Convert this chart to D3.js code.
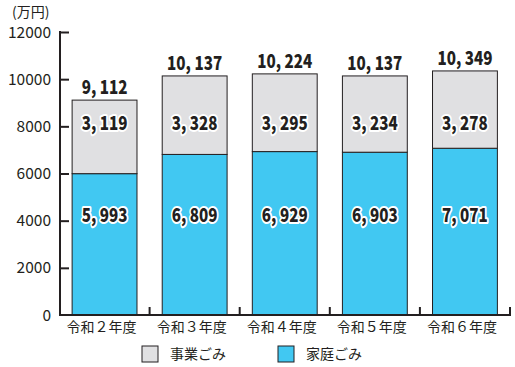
<!DOCTYPE html>
<html><head><meta charset="utf-8">
<script src="https://cdn.jsdelivr.net/npm/d3@7"></script>
<style>
body{margin:0;background:#fff;}
svg{display:block;}
</style></head>
<body>
<svg id="chart" width="515" height="367"></svg>
<script>
const categories = ["令和２年度","令和３年度","令和４年度","令和５年度","令和６年度"];
const household = [5993, 6809, 6929, 6903, 7071];
const business  = [3119, 3328, 3295, 3234, 3278];
const totals    = [9112, 10137, 10224, 10137, 10349];
const yTicks = [0, 2000, 4000, 6000, 8000, 10000, 12000];
const seriesNames = ["事業ごみ", "家庭ごみ"];
const unitLabel = "(万円)";

const colors = {biz: "#e0e0e2", home: "#41c8f2", ink: "#231f20"};
const fmt = v => d3.format(",")(v).replace(",", ", ");

const svg = d3.select("#chart");
const x = d3.scaleBand().domain(categories).range([59.5, 510]).paddingInner(0.28).paddingOuter(0.14);
const y = d3.scaleLinear().domain([0, 12000]).range([315, 32]);
const font = "'Noto Sans CJK JP', 'Noto Sans', sans-serif";

const data = categories.map((c, i) => ({c, home: household[i], biz: business[i], total: totals[i]}));

// bars
const g = svg.append("g");
g.selectAll("rect.home").data(data).join("rect")
  .attr("x", d => x(d.c)).attr("width", x.bandwidth())
  .attr("y", d => y(d.home)).attr("height", d => y(0) - y(d.home))
  .attr("fill", colors.home).attr("stroke", colors.ink).attr("stroke-width", 1);
g.selectAll("rect.biz").data(data).join("rect")
  .attr("x", d => x(d.c)).attr("width", x.bandwidth())
  .attr("y", d => y(d.home + d.biz)).attr("height", d => y(d.home) - y(d.home + d.biz))
  .attr("fill", colors.biz).attr("stroke", colors.ink).attr("stroke-width", 1);

// y axis
const yAxis = d3.axisRight(y).tickValues(yTicks).tickSize(9).tickFormat("");
const ya = svg.append("g").attr("transform", "translate(60,0)").call(yAxis);
ya.select(".domain").attr("stroke", colors.ink).attr("stroke-width", 2).attr("d", `M0,${y(12000)-1}V${y(0)}`);
ya.selectAll(".tick line").attr("stroke", colors.ink).attr("stroke-width", 2);
ya.selectAll(".tick").filter(d => d === 0).select("line").remove();
svg.append("g").selectAll("text").data(yTicks).join("text")
  .attr("x", 51).attr("y", d => y(d)).attr("dy", "0.36em")
  .attr("text-anchor", "end").attr("font-family", font).attr("font-size", 15.5)
  .attr("fill", colors.ink).text(d => d);

// x axis baseline with separator ticks
const start = x(categories[0]) - x.step() * x.paddingOuter();
const boundaries = categories.map((c, i) => start + x.step() * (i + 1));
svg.append("line").attr("x1", 59).attr("x2", boundaries[boundaries.length-1] + 1)
  .attr("y1", y(0)).attr("y2", y(0)).attr("stroke", colors.ink).attr("stroke-width", 2);
svg.append("g").selectAll("line").data(boundaries).join("line")
  .attr("x1", d => d).attr("x2", d => d).attr("y1", y(0)).attr("y2", y(0) - 8)
  .attr("stroke", colors.ink).attr("stroke-width", 2);
svg.append("g").selectAll("text").data(categories).join("text")
  .attr("x", d => x(d) + x.bandwidth()/2 - 3).attr("y", y(0) + 12).attr("dy", "0.35em")
  .attr("text-anchor", "middle").attr("font-family", font).attr("font-size", 14)
  .attr("fill", colors.ink).text(d => d);

// unit
svg.append("text").attr("x", 12).attr("y", 12).attr("dy", "0.35em")
  .attr("font-family", font).attr("font-size", 14).attr("fill", colors.ink).text(unitLabel);

// value labels
function label(sel, xf, yf, tf, halo) {
  const t = sel.append("g").selectAll("text").data(data).join("text")
    .attr("transform", d => `translate(${xf(d)},${yf(d)}) scale(0.8,1)`)
    .attr("text-anchor", "middle").attr("dy", "0.36em")
    .attr("font-family", font).attr("font-weight", 900).attr("font-size", 19)
    .attr("fill", colors.ink).text(tf);
  if (halo) t.attr("stroke", "#fff").attr("stroke-width", 4).attr("stroke-linejoin", "round").attr("paint-order", "stroke");
}
const cx = d => x(d.c) + x.bandwidth()/2;
label(svg, cx, d => y(d.total) - 13, d => fmt(d.total), false);
label(svg, cx, d => y(8150), d => fmt(d.biz), true);
label(svg, cx, d => y(4230), d => fmt(d.home), true);

// legend
const leg = svg.append("g");
const items = [{n: seriesNames[0], c: colors.biz, x: 142}, {n: seriesNames[1], c: colors.home, x: 278}];
leg.selectAll("rect").data(items).join("rect")
  .attr("x", d => d.x).attr("y", 346).attr("width", 16).attr("height", 16)
  .attr("fill", d => d.c).attr("stroke", colors.ink).attr("stroke-width", 1);
leg.selectAll("text").data(items).join("text")
  .attr("x", d => d.x + 28).attr("y", 354).attr("dy", "0.36em")
  .attr("font-family", font).attr("font-size", 14).attr("fill", colors.ink).text(d => d.n);
</script>
</body></html>
